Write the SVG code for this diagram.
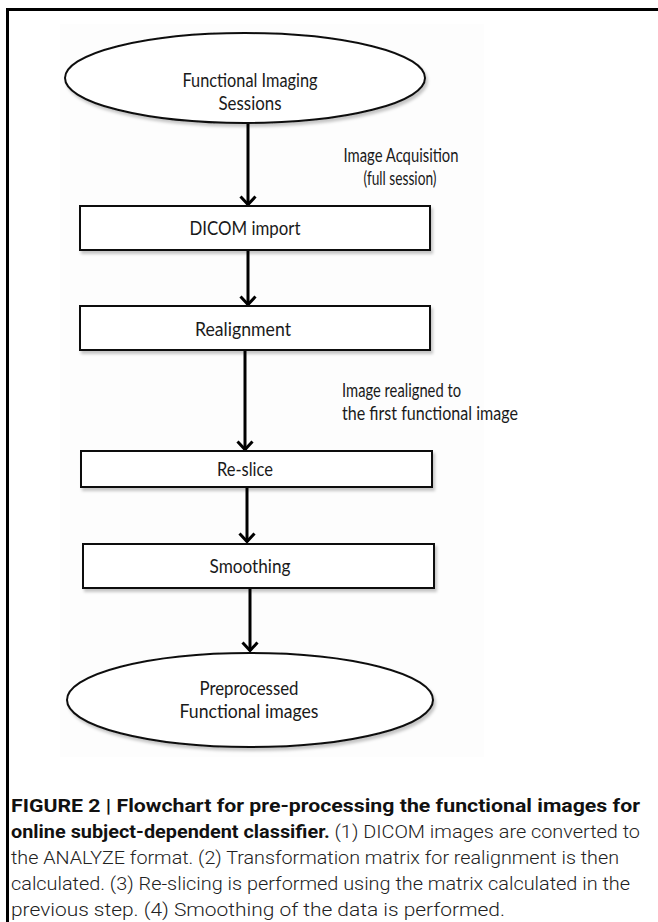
<svg xmlns="http://www.w3.org/2000/svg" width="658" height="922" viewBox="0 0 658 922">
  <style>
    .node { fill: #ffffff; stroke: #111111; stroke-width: 2; }
    .lbl { font-family: Lato, "Open Sans", "Liberation Sans", sans-serif; font-size: 18.5px; fill: #1a1a1a; }
    .mid { text-anchor: middle; }
    .edge { stroke: #000000; stroke-width: 3; fill: none; marker-end: url(#chev); }
    .cap { font-family: Roboto, "Liberation Sans Narrow", "Liberation Sans", sans-serif; font-size: 19px; font-weight: 300; fill: #222222; }
    .b { font-weight: bold; fill: #111111; }
  </style>
  <defs>
    <marker id="chev" viewBox="0 0 12 18" refX="10.5" refY="9" markerWidth="12" markerHeight="18" orient="auto" markerUnits="userSpaceOnUse">
      <path d="M2,1.5 L10,9 L2,16.5" fill="none" stroke="#000" stroke-width="3"/>
    </marker>
    <filter id="shade" x="-5%" y="-20%" width="112%" height="150%">
      <feDropShadow dx="2" dy="3" stdDeviation="1.5" flood-color="#000" flood-opacity="0.22"/>
    </filter>
  </defs>

  <!-- frame -->
  <rect x="0" y="0" width="658" height="922" fill="#ffffff"/>
  <path d="M7.5,922 L7.5,9.5 L660,9.5" fill="none" stroke="#000" stroke-width="3"/>
  <rect x="60" y="24" width="424" height="733" fill="#fdfdfd"/>

  <!-- connectors -->
  <g id="connectors">
    <line class="edge" x1="248" y1="123" x2="248" y2="205"/>
    <line class="edge" x1="248" y1="251" x2="248" y2="305"/>
    <line class="edge" x1="245" y1="351" x2="245" y2="450"/>
    <line class="edge" x1="247" y1="488" x2="247" y2="542"/>
    <line class="edge" x1="250" y1="589" x2="250" y2="651"/>
  </g>

  <g id="sessions">
    <ellipse class="node" cx="245" cy="78" rx="180" ry="45" filter="url(#shade)"/>
    <text class="lbl mid" x="250" y="87" textLength="135" lengthAdjust="spacingAndGlyphs">Functional Imaging</text>
    <text class="lbl mid" x="250" y="110" textLength="63" lengthAdjust="spacingAndGlyphs">Sessions</text>
  </g>

  <g id="acq-label">
    <text class="lbl mid" x="401" y="162" textLength="115" lengthAdjust="spacingAndGlyphs">Image Acquisition</text>
    <text class="lbl mid" x="400" y="185" textLength="73" lengthAdjust="spacingAndGlyphs">(full session)</text>
  </g>

  <g id="dicom">
    <rect class="node" x="80" y="206" width="350" height="44" filter="url(#shade)"/>
    <text class="lbl mid" x="245" y="235" textLength="111" lengthAdjust="spacingAndGlyphs">DICOM import</text>
  </g>

  <g id="realign">
    <rect class="node" x="80" y="306" width="350" height="44" filter="url(#shade)"/>
    <text class="lbl mid" x="243" y="336" textLength="96" lengthAdjust="spacingAndGlyphs">Realignment</text>
  </g>

  <g id="realign-label">
    <text class="lbl" x="342" y="397" textLength="119" lengthAdjust="spacingAndGlyphs">Image realigned to</text>
    <text class="lbl" x="342" y="420" textLength="176" lengthAdjust="spacingAndGlyphs">the first functional image</text>
  </g>

  <g id="reslice">
    <rect class="node" x="81" y="451" width="351" height="36" filter="url(#shade)"/>
    <text class="lbl mid" x="245" y="476" textLength="56" lengthAdjust="spacingAndGlyphs">Re-slice</text>
  </g>

  <g id="smoothing">
    <rect class="node" x="83" y="544" width="351" height="44" filter="url(#shade)"/>
    <text class="lbl mid" x="250" y="573" textLength="81" lengthAdjust="spacingAndGlyphs">Smoothing</text>
  </g>

  <g id="output">
    <ellipse class="node" cx="250" cy="700" rx="183" ry="47" filter="url(#shade)"/>
    <text class="lbl mid" x="249" y="695" textLength="99" lengthAdjust="spacingAndGlyphs">Preprocessed</text>
    <text class="lbl mid" x="249" y="718" textLength="139" lengthAdjust="spacingAndGlyphs">Functional images</text>
  </g>

  <!-- caption -->
  <g id="caption">
    <text class="cap" x="11" y="812" textLength="629" lengthAdjust="spacingAndGlyphs"><tspan class="b">FIGURE 2 | Flowchart for pre-processing the functional images for</tspan></text>
    <text class="cap" x="11" y="838" textLength="629" lengthAdjust="spacingAndGlyphs"><tspan class="b">online subject-dependent classifier.</tspan> (1) DICOM images are converted to</text>
    <text class="cap" x="11" y="864" textLength="608" lengthAdjust="spacingAndGlyphs">the ANALYZE format. (2) Transformation matrix for realignment is then</text>
    <text class="cap" x="11" y="890" textLength="619" lengthAdjust="spacingAndGlyphs">calculated. (3) Re-slicing is performed using the matrix calculated in the</text>
    <text class="cap" x="11" y="916" textLength="494" lengthAdjust="spacingAndGlyphs">previous step. (4) Smoothing of the data is performed.</text>
  </g>
</svg>
